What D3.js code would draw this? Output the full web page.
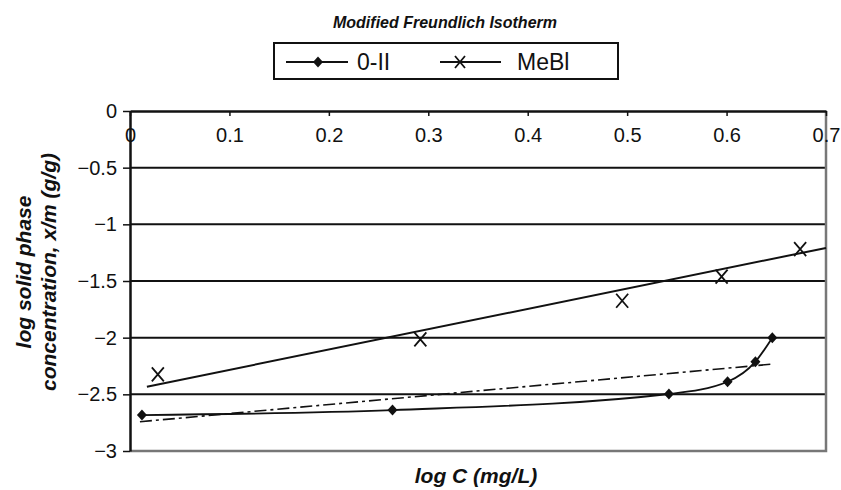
<!DOCTYPE html>
<html>
<head>
<meta charset="utf-8">
<script src="https://cdn.jsdelivr.net/npm/d3@7"></script>
<style>
  body { margin: 0; background: #fff; }
  text { font-family: "Liberation Sans", Arial, sans-serif; }
</style>
</head>
<body>
<div id="isotherm-vis"></div>
<script>
// Data
const xTicks = [0, 0.1, 0.2, 0.3, 0.4, 0.5, 0.6, 0.7];
const yTicks = [0, -0.5, -1, -1.5, -2, -2.5, -3];

const o2LogC = [0.012, 0.264, 0.542, 0.601, 0.629, 0.646];
const o2LogQ = [-2.683, -2.639, -2.497, -2.389, -2.212, -2.0];

const mebLogC = [0.028, 0.292, 0.495, 0.595, 0.674];
const mebLogQ = [-2.324, -2.015, -1.674, -1.462, -1.218];

// Trend lines (end points)
const o2TrendC = [0.01, 0.646];
const o2TrendQ = [-2.742, -2.233];
const mebTrendC = [0.017, 0.7];
const mebTrendQ = [-2.433, -1.208];

const seriesNames = ["0-II", "MeBl"];

// Dimensions
const width = 841, height = 490;
const plot = {left: 130, right: 826, top: 111, bottom: 451};

let svg = d3.select("#isotherm-vis")
            .append("svg")
            .attr("width", width)
            .attr("height", height);

const xScale = d3.scaleLinear().domain([0, 0.7]).range([plot.left, plot.right]);
const yScale = d3.scaleLinear().domain([0, -3]).range([plot.top, plot.bottom]);

// Horizontal gridlines
svg.append("g")
    .selectAll("line")
    .data(yTicks.filter(d => d !== 0 && d !== -3))
    .enter()
    .append("line")
        .attr("x1", plot.left)
        .attr("x2", plot.right)
        .attr("y1", d => yScale(d))
        .attr("y2", d => yScale(d))
        .attr("stroke", "#111")
        .attr("stroke-width", 2);

// Right and bottom border of plot area (grey)
svg.append("path")
    .attr("d", `M${plot.right},${plot.top}V${plot.bottom}H${plot.left}`)
    .attr("fill", "none")
    .attr("stroke", "#777")
    .attr("stroke-width", 2.5);

// x axis sits on the top edge, labels below it
let xAxis = svg.append("g")
    .attr("transform", `translate(0,${plot.top})`)
    .call(d3.axisBottom(xScale).tickValues(xTicks).tickSize(5).tickPadding(12)
            .tickSizeOuter(0).tickFormat(d => d === 0 ? "0" : d3.format(".1f")(d)));
xAxis.select(".domain").attr("stroke", "#111").attr("stroke-width", 2.5);
xAxis.selectAll(".tick line").attr("stroke", "#111").attr("stroke-width", 1.5);
xAxis.selectAll("text").attr("fill", "#111").style("font-size", "20px");

// y axis
let yAxis = svg.append("g")
    .attr("transform", `translate(${plot.left},0)`)
    .call(d3.axisLeft(yScale).tickValues(yTicks).tickSize(7).tickPadding(6)
            .tickSizeOuter(0).tickFormat(d => d === 0 ? "0" : d3.format("")(d)));
yAxis.select(".domain").attr("stroke", "#111").attr("stroke-width", 2.5);
yAxis.selectAll(".tick line").attr("stroke", "#111").attr("stroke-width", 1.5);
yAxis.selectAll("text").attr("fill", "#111").style("font-size", "20px");

// 0-II trend line (dash-dot)
const o2Trend = o2TrendC.map((c, i) => [c, o2TrendQ[i]]);
svg.append("path")
    .datum(o2Trend)
    .attr("d", d3.line().x(d => xScale(d[0])).y(d => yScale(d[1])))
    .attr("fill", "none")
    .attr("stroke", "#111")
    .attr("stroke-width", 1.6)
    .attr("stroke-dasharray", "12,4,3,4");

// MeBl trend line (solid)
const mebTrend = mebTrendC.map((c, i) => [c, mebTrendQ[i]]);
svg.append("path")
    .datum(mebTrend)
    .attr("d", d3.line().x(d => xScale(d[0])).y(d => yScale(d[1])))
    .attr("fill", "none")
    .attr("stroke", "#111")
    .attr("stroke-width", 2);

// 0-II curve through points
const o2Data = o2LogC.map((c, i) => [c, o2LogQ[i]]);
svg.append("path")
    .datum(o2Data)
    .attr("d", d3.line().curve(d3.curveMonotoneX).x(d => xScale(d[0])).y(d => yScale(d[1])))
    .attr("fill", "none")
    .attr("stroke", "#111")
    .attr("stroke-width", 1.8);

// diamond marker path
function diamond(cx, cy) {
    return `M${cx},${cy - 5.5}L${cx + 5},${cy}L${cx},${cy + 5.5}L${cx - 5},${cy}Z`;
}
// cross marker path
function cross(cx, cy) {
    return `M${cx - 6},${cy - 7}L${cx + 6},${cy + 7}M${cx + 6},${cy - 7}L${cx - 6},${cy + 7}`;
}

svg.append("g")
    .selectAll("path")
    .data(o2Data)
    .enter()
    .append("path")
        .attr("d", d => diamond(xScale(d[0]), yScale(d[1])))
        .attr("fill", "#111");

const mebData = mebLogC.map((c, i) => [c, mebLogQ[i]]);
svg.append("g")
    .selectAll("path")
    .data(mebData)
    .enter()
    .append("path")
        .attr("d", d => cross(xScale(d[0]), yScale(d[1])))
        .attr("fill", "none")
        .attr("stroke", "#111")
        .attr("stroke-width", 1.8);

// Title
svg.append("text")
    .attr("x", 445)
    .attr("y", 28)
    .attr("text-anchor", "middle")
    .attr("textLength", 224)
    .attr("lengthAdjust", "spacingAndGlyphs")
    .style("font-family", "'Liberation Sans Narrow', 'Arial Narrow', 'Liberation Sans', Arial, sans-serif")
    .style("font-size", "17px")
    .style("font-weight", "bold")
    .style("font-style", "italic")
    .attr("fill", "#111")
    .text("Modified Freundlich Isotherm");

// Legend
svg.append("rect")
    .attr("x", 274)
    .attr("y", 43)
    .attr("width", 344)
    .attr("height", 36)
    .attr("fill", "#fff")
    .attr("stroke", "#111")
    .attr("stroke-width", 2);

const legendY = 62;
svg.append("line")
    .attr("x1", 286).attr("x2", 348)
    .attr("y1", legendY).attr("y2", legendY)
    .attr("stroke", "#111").attr("stroke-width", 1.8);
svg.append("path")
    .attr("d", diamond(318, legendY))
    .attr("fill", "#111");
svg.append("text")
    .attr("x", 357)
    .attr("y", legendY)
    .attr("dominant-baseline", "central")
    .style("font-size", "23px")
    .attr("fill", "#111")
    .text(seriesNames[0]);

svg.append("line")
    .attr("x1", 440).attr("x2", 501)
    .attr("y1", legendY).attr("y2", legendY)
    .attr("stroke", "#111").attr("stroke-width", 1.8);
svg.append("path")
    .attr("d", `M455,${legendY - 6}L465,${legendY + 6}M465,${legendY - 6}L455,${legendY + 6}`)
    .attr("stroke", "#111").attr("stroke-width", 1.8);
svg.append("text")
    .attr("x", 517)
    .attr("y", legendY)
    .attr("dominant-baseline", "central")
    .style("font-size", "23px")
    .attr("fill", "#111")
    .text(seriesNames[1]);

// x axis label
svg.append("text")
    .attr("x", 476)
    .attr("y", 483)
    .attr("text-anchor", "middle")
    .style("font-size", "21px")
    .style("font-weight", "bold")
    .style("font-style", "italic")
    .attr("fill", "#111")
    .text("log C (mg/L)");

// y axis label (two lines)
const yLabelLines = ["log solid phase", "concentration, x/m (g/g)"];
svg.append("g")
    .selectAll("text")
    .data(yLabelLines)
    .enter()
    .append("text")
        .attr("transform", (d, i) => `translate(${23 + i * 25},272) rotate(-90)`)
        .attr("text-anchor", "middle")
        .attr("dominant-baseline", "central")
        .style("font-size", "21px")
        .style("font-weight", "bold")
        .style("font-style", "italic")
        .attr("fill", "#111")
        .text(d => d);
</script>
</body>
</html>
